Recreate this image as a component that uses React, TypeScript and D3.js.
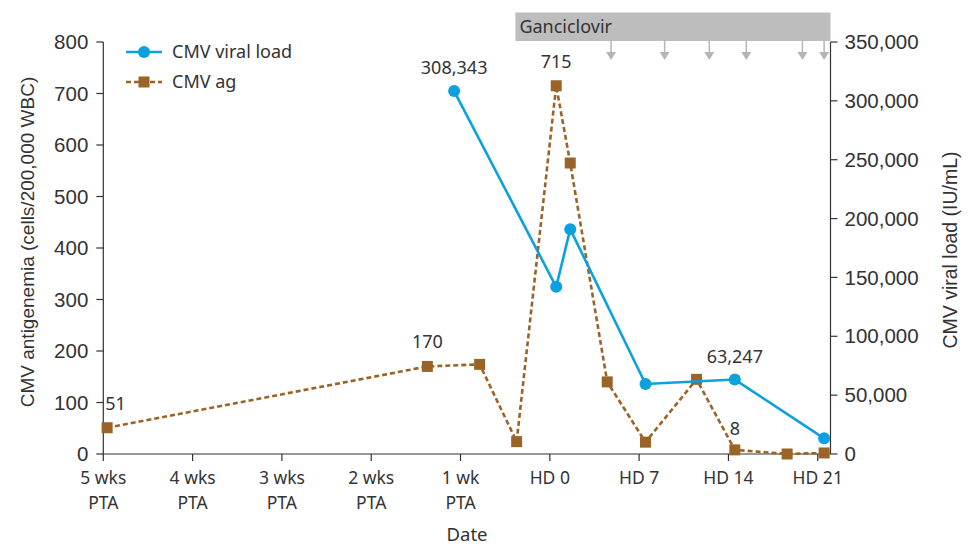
import React from "react";
import * as d3 from "d3";

// days relative to HD 0 (transplant)
const xTickDays = [-35, -28, -21, -14, -7, 0, 7, 14, 21];
const xTickLabels = [
  ["5 wks", "PTA"],
  ["4 wks", "PTA"],
  ["3 wks", "PTA"],
  ["2 wks", "PTA"],
  ["1 wk", "PTA"],
  ["HD 0"],
  ["HD 7"],
  ["HD 14"],
  ["HD 21"],
];
const leftTicks = [0, 100, 200, 300, 400, 500, 600, 700, 800];
const rightTicks = [0, 50000, 100000, 150000, 200000, 250000, 300000, 350000];

// CMV antigenemia (cells/200,000 WBC)
const agDays = [-34.7, -9.6, -5.5, -2.6, 0.5, 1.6, 4.5, 7.5, 11.5, 14.5, 18.6, 21.5];
const agValues = [51, 170, 174, 24, 715, 565, 140, 23, 145, 8, 0, 2];
const agLabelled = [0, 1, 4, 9];

// CMV viral load (IU/mL)
const vlDays = [-7.5, 0.5, 1.6, 7.5, 14.5, 21.5];
const vlValues = [308343, 142000, 191000, 59500, 63247, 13300];
const vlLabelled = [0, 4];

// ganciclovir course and dose arrows
const gcvStart = -2.7;
const gcvEnd = 22;
const doseDays = [4.8, 9.0, 12.5, 15.4, 19.8, 21.5];

const BLUE = "#0ba0de";
const BROWN = "#9a6427";
const AXIS = "#333";
const TICKFONT = "'Liberation Sans', Arial, sans-serif";
const LABFONT = "'Noto Sans', 'Open Sans', sans-serif";

export default function App() {
  const width = 973;
  const height = 547;
  const left = 103.3;
  const right = 830.5;
  const top = 42;
  const bottom = 454;

  const x = d3.scaleLinear().domain([-35, 22]).range([left, right]);
  const yL = d3.scaleLinear().domain([0, 800]).range([bottom, top]);
  const yR = d3.scaleLinear().domain([0, 350000]).range([bottom, top]);
  const fmt = d3.format(",");

  const agLine = d3
    .line<number>()
    .x((_, i) => x(agDays[i]))
    .y((d) => yL(d));
  const vlLine = d3
    .line<number>()
    .x((_, i) => x(vlDays[i]))
    .y((d) => yR(d));

  const sq = 11;

  return (
    <svg
      width={width}
      height={height}
      style={{ position: "absolute", left: 0, top: 0, background: "#fff" }}
    >
      {/* ganciclovir bar */}
      <rect x={x(gcvStart)} y={12.5} width={x(gcvEnd) - x(gcvStart)} height={28.5} fill="#bdbdbd" />
      <text x={x(gcvStart) + 4} y={33} fontFamily={LABFONT} fontSize={18} fill="#333">
        Ganciclovir
      </text>
      {doseDays.map((d, i) => (
        <g key={i} stroke="#b5b5b5" fill="#b5b5b5">
          <line x1={x(d)} x2={x(d)} y1={41} y2={54} strokeWidth={1.5} />
          <path d={`M${x(d) - 5},${52} L${x(d) + 5},${52} L${x(d)},${60} Z`} stroke="none" />
        </g>
      ))}

      {/* left axis */}
      <g fontFamily={TICKFONT} fontSize={20.5} fill={AXIS}>
        <line x1={left} x2={left} y1={top} y2={bottom} stroke={AXIS} strokeWidth={1.2} />
        {leftTicks.map((t) => (
          <g key={t}>
            <line x1={left - 7} x2={left} y1={yL(t)} y2={yL(t)} stroke={AXIS} strokeWidth={1.2} />
            <text x={left - 15} y={yL(t)} dy="0.35em" textAnchor="end">
              {t}
            </text>
          </g>
        ))}
      </g>

      {/* right axis */}
      <g fontFamily={TICKFONT} fontSize={20.5} fill={AXIS}>
        <line x1={right} x2={right} y1={top} y2={bottom} stroke={AXIS} strokeWidth={1.2} />
        {rightTicks.map((t) => (
          <g key={t}>
            <line x1={right} x2={right + 7} y1={yR(t)} y2={yR(t)} stroke={AXIS} strokeWidth={1.2} />
            <text x={right + 14} y={yR(t)} dy="0.35em" textAnchor="start">
              {fmt(t)}
            </text>
          </g>
        ))}
      </g>

      {/* x axis */}
      <g fontFamily={LABFONT} fontSize={17.5} fill={AXIS}>
        <line x1={left} x2={right} y1={bottom} y2={bottom} stroke={AXIS} strokeWidth={1.2} />
        {xTickDays.map((t, i) => (
          <g key={t}>
            <line x1={x(t)} x2={x(t)} y1={bottom} y2={bottom + 7} stroke={AXIS} strokeWidth={1.2} />
            {xTickLabels[i].map((s, j) => (
              <text key={j} x={x(t)} y={484 + j * 25} textAnchor="middle">
                {s}
              </text>
            ))}
          </g>
        ))}
      </g>

      {/* axis titles */}
      <text x={467} y={541} textAnchor="middle" fontFamily={LABFONT} fontSize={18.5} fill={AXIS}>
        Date
      </text>
      <text
        transform={`translate(34,242) rotate(-90)`}
        textAnchor="middle"
        fontFamily={TICKFONT}
        fontSize={19}
        fill={AXIS}
      >
        CMV antigenemia (cells/200,000 WBC)
      </text>
      <text
        transform={`translate(957,250) rotate(-90)`}
        textAnchor="middle"
        fontFamily={TICKFONT}
        fontSize={19.5}
        fill={AXIS}
      >
        CMV viral load (IU/mL)
      </text>

      {/* CMV ag series */}
      <path
        d={agLine(agValues) ?? ""}
        fill="none"
        stroke={BROWN}
        strokeWidth={2.6}
        strokeDasharray="5,3"
      />
      {agValues.map((v, i) => (
        <rect key={i} x={x(agDays[i]) - sq / 2} y={yL(v) - sq / 2} width={sq} height={sq} fill={BROWN} />
      ))}

      {/* CMV viral load series */}
      <path d={vlLine(vlValues) ?? ""} fill="none" stroke={BLUE} strokeWidth={2.6} />
      {vlValues.map((v, i) => (
        <circle key={i} cx={x(vlDays[i])} cy={yR(v)} r={6} fill={BLUE} />
      ))}

      {/* data labels */}
      <g fontFamily={LABFONT} fontSize={18} fill={AXIS}>
        {agLabelled.map((i) => (
          <text
            key={"ag" + i}
            x={i === 0 ? x(agDays[i]) - 2 : x(agDays[i])}
            y={yL(agValues[i]) - (i === 9 ? 15 : 18)}
            textAnchor={i === 0 ? "start" : "middle"}
          >
            {fmt(agValues[i])}
          </text>
        ))}
        {vlLabelled.map((i) => (
          <text key={"vl" + i} x={x(vlDays[i])} y={yR(vlValues[i]) - 17} textAnchor="middle">
            {fmt(vlValues[i])}
          </text>
        ))}
      </g>

      {/* legend */}
      <g fontFamily={LABFONT} fontSize={18} fill={AXIS}>
        <line x1={126} x2={162} y1={52} y2={52} stroke={BLUE} strokeWidth={2.6} />
        <circle cx={144} cy={52} r={6} fill={BLUE} />
        <text x={172} y={58}>CMV viral load</text>
        <line x1={126} x2={162} y1={82} y2={82} stroke={BROWN} strokeWidth={2.6} strokeDasharray="5,3" />
        <rect x={144 - sq / 2} y={82 - sq / 2} width={sq} height={sq} fill={BROWN} />
        <text x={172} y={88}>CMV ag</text>
      </g>
    </svg>
  );
}
